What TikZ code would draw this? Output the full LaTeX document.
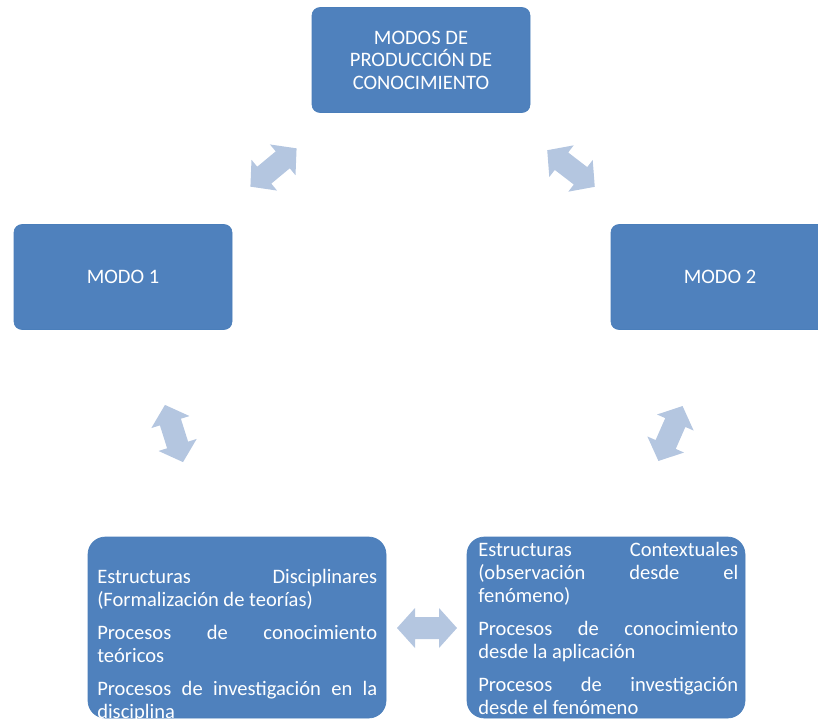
\documentclass[tikz,border=0pt]{standalone}
\usepackage{fontspec}
\setmainfont{Carlito}
\definecolor{boxblue}{HTML}{4F81BD}
\definecolor{boxline}{HTML}{4A7EBA}
\definecolor{arrowfill}{HTML}{B4C6E0}
\tikzset{
  box/.style={fill=boxblue, draw=boxline, line width=0.5pt, text=white, align=center,
    font=\fontsize{15.4}{16.9}\selectfont, inner sep=0pt},
  smallbox/.style={box, rounded corners=6pt, minimum width=218*0.75pt, minimum height=105*0.75pt},
  bigbox/.style={box, rounded corners=13pt, minimum height=181*0.75pt},
  bodytext/.style={text=white, inner sep=0pt, anchor=base west,
    font=\fontsize{15.4}{17.25}\selectfont},
  dblarrow/.pic={\fill[arrowfill] (-30,0) -- (-12,20) -- (-12,11) -- (12,11) -- (12,20) -- (30,0)
     -- (12,-20) -- (12,-11) -- (-12,-11) -- (-12,-20) -- cycle;}
}
\newcommand{\boxpar}[2]{\parbox[t]{#1}{\hyphenpenalty=10000\exhyphenpenalty=10000
  \setlength{\parskip}{7.5pt}\setlength{\parindent}{0pt}#2}}
\begin{document}
\begin{tikzpicture}[x=0.75pt, y=-0.75pt]
\path[use as bounding box, clip] (0,0) rectangle (818,719);
\node[smallbox] (top) at (421,60) {MODOS DE\\PRODUCCIÓN DE\\CONOCIMIENTO};
\node[smallbox] (m1) at (123,277) {MODO 1};
\node[smallbox] (m2) at (720,277) {MODO 2};
\node[bigbox, minimum width=298*0.75pt] (b1) at (237,627.5) {};
\node[bigbox, minimum width=278*0.75pt] (b2) at (606,627.5) {};
\node[bodytext] (t1) at (97,583.5) {\boxpar{210pt}{Estructuras Disciplinares\linebreak (Formalización de teorías)\par
Procesos de conocimiento\linebreak teóricos\par
Procesos de investigación en la\linebreak disciplina}};
\node[bodytext] (t2) at (478,556.5) {\boxpar{195pt}{Estructuras Contextuales\linebreak (observación desde el\linebreak fenómeno)\par
Procesos de conocimiento\linebreak desde la aplicación\par
Procesos de investigación\linebreak desde el fenómeno}};
\pic (a1) [rotate=39.7] at (273.5,167.5) {dblarrow};
\pic (a2) [rotate=-37.6] at (571,168.5) {dblarrow};
\pic (a3) [rotate=-72.5] at (174,433.5) {dblarrow};
\pic (a4) [rotate=66.3] at (670.5,433.5) {dblarrow};
\pic (a5) at (427,628) {dblarrow};
\end{tikzpicture}
\end{document}
